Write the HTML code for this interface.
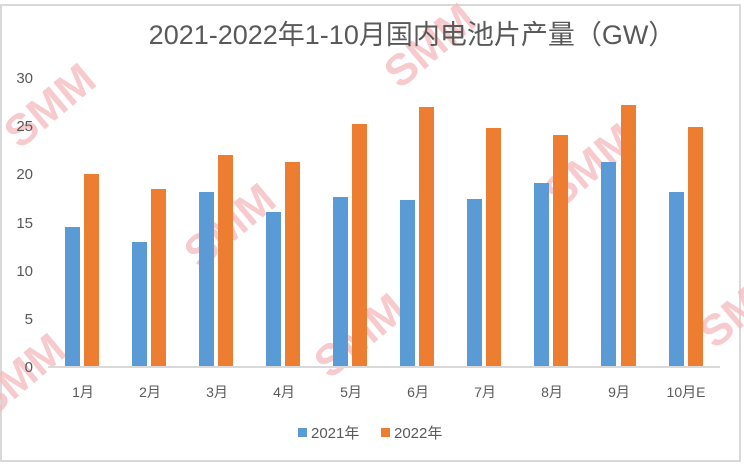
<!DOCTYPE html>
<html><head><meta charset="utf-8"><style>
html,body{margin:0;padding:0;background:#fff;}
body{width:744px;height:466px;overflow:hidden;position:relative;font-family:"Liberation Sans","Noto Sans CJK SC",sans-serif;}
</style></head><body>
<svg width="744" height="466" viewBox="0 0 744 466" xmlns="http://www.w3.org/2000/svg" style="position:absolute;left:0;top:0">
<rect x="1" y="5" width="739" height="456" fill="#fff" stroke="#d9d9d9" stroke-width="2"/>
<g fill="#f4b8bc" opacity="0.75" font-family="Liberation Sans, sans-serif" font-weight="bold">
<text x="0" y="0" font-size="44" transform="translate(20,150) rotate(-40)">SMM</text>
<text x="0" y="0" font-size="44" transform="translate(400,90) rotate(-40)">SMM</text>
<text x="0" y="0" font-size="44" transform="translate(200,270) rotate(-40)">SMM</text>
<text x="0" y="0" font-size="44" transform="translate(560,210) rotate(-40)">SMM</text>
<text x="0" y="0" font-size="44" transform="translate(330,380) rotate(-40)">SMM</text>
<text x="0" y="0" font-size="44" transform="translate(-10,420) rotate(-40)">SMM</text>
<text x="0" y="0" font-size="44" transform="translate(715,350) rotate(-40)">SMM</text>
</g>
<text x="412" y="44" text-anchor="middle" font-size="27" fill="#595959" font-family="Liberation Sans, Noto Sans CJK SC, sans-serif">2021-2022年1-10月国内电池片产量（GW）</text>
<g font-size="15" fill="#595959" text-anchor="end">
<text x="33" y="372">0</text><text x="33" y="324">5</text><text x="33" y="276">10</text>
<text x="33" y="228">15</text><text x="33" y="179">20</text><text x="33" y="131">25</text><text x="33" y="83">30</text>
</g>
<line x1="48" y1="367" x2="720" y2="367" stroke="#d9d9d9" stroke-width="2"/>
<g fill="#5b9bd5">
<rect x="65" y="227" width="15" height="139"/>
<rect x="132" y="242" width="15" height="124"/>
<rect x="199" y="192" width="15" height="174"/>
<rect x="266" y="212" width="15" height="154"/>
<rect x="333" y="197" width="15" height="169"/>
<rect x="400" y="200" width="15" height="166"/>
<rect x="467" y="199" width="15" height="167"/>
<rect x="534" y="183" width="15" height="183"/>
<rect x="601" y="162" width="15" height="204"/>
<rect x="669" y="192" width="15" height="174"/>
</g>
<g fill="#ed7d31">
<rect x="84" y="174" width="15" height="192"/>
<rect x="151" y="189" width="15" height="177"/>
<rect x="218" y="155" width="15" height="211"/>
<rect x="285" y="162" width="15" height="204"/>
<rect x="352" y="124" width="15" height="242"/>
<rect x="419" y="107" width="15" height="259"/>
<rect x="486" y="128" width="15" height="238"/>
<rect x="553" y="135" width="15" height="231"/>
<rect x="621" y="105" width="15" height="261"/>
<rect x="688" y="127" width="15" height="239"/>
</g>
<g font-size="14" fill="#595959" text-anchor="middle" font-family="Liberation Sans, Noto Sans CJK SC, sans-serif">
<text x="83" y="397">1月</text><text x="150" y="397">2月</text><text x="217" y="397">3月</text>
<text x="284" y="397">4月</text><text x="351" y="397">5月</text><text x="418" y="397">6月</text>
<text x="485" y="397">7月</text><text x="552" y="397">8月</text><text x="619" y="397">9月</text>
<text x="686" y="397">10月E</text>
</g>
<rect x="298" y="428" width="9" height="9" fill="#5b9bd5"/>
<text x="311" y="438" font-size="15" fill="#595959" font-family="Liberation Sans, Noto Sans CJK SC, sans-serif">2021年</text>
<rect x="381" y="428" width="9" height="9" fill="#ed7d31"/>
<text x="394" y="438" font-size="15" fill="#595959" font-family="Liberation Sans, Noto Sans CJK SC, sans-serif">2022年</text>
</svg>
</body></html>
